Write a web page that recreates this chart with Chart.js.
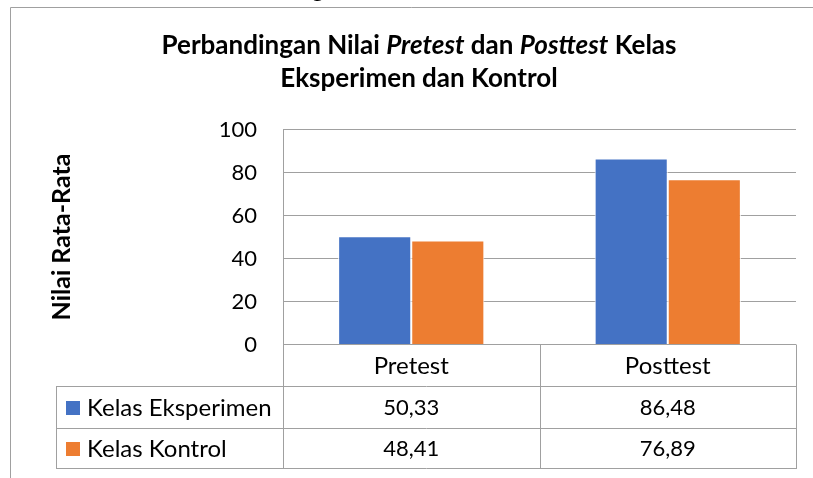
<!DOCTYPE html>
<html>
<head>
<meta charset="utf-8">
<script src="https://cdn.jsdelivr.net/npm/chart.js@4/dist/chart.umd.min.js"></script>
<style>
  body { margin: 0; background: #fff; }
  #wrap { width: 813px; height: 478px; position: relative; }
</style>
</head>
<body>
<div id="wrap"><canvas id="bar-chart"></canvas></div>
<script>
// data
const categories = ['Pretest', 'Posttest'];
const seriesNames = ['Kelas Eksperimen', 'Kelas Kontrol'];
const eksperimen = [50.33, 86.48];
const kontrol = [48.41, 76.89];
const seriesColors = ['#4472C4', '#ED7D31'];
const yMin = 0, yMax = 100, yStep = 20;
const titleParts = [
  ['Perbandingan Nilai ', false], ['Pretest', true], [' dan ', false],
  ['Posttest', true], [' Kelas', false]
];
const titleLine2 = 'Eksperimen dan Kontrol';
const yTitle = 'Nilai Rata-Rata';
const caption = 'Gambar 4.2 Diagram Nilai Rata-Rata Pretest dan Posttest';

const FONT = 'Lato, "Open Sans", sans-serif';
const lineCol = '#a0a0a0';

function fmt(v) { return v.toFixed(2).replace('.', ','); }

// frame, title, axis title and the data table under the bars
const decor = {
  id: 'decor',
  afterDraw(chart) {
    const ctx = chart.ctx;
    const area = chart.chartArea;
    const x = chart.scales.x;
    ctx.save();

    // caption of the page, mostly cut off above
    ctx.fillStyle = '#000';
    ctx.font = 'bold 26px ' + FONT;
    ctx.textAlign = 'center';
    ctx.textBaseline = 'alphabetic';
    ctx.fillText(caption, 450, -3, 610);

    // chart frame
    ctx.strokeStyle = lineCol;
    ctx.lineWidth = 1;
    ctx.beginPath();
    ctx.moveTo(10.5, 478); ctx.lineTo(10.5, 7.5); ctx.lineTo(813, 7.5);
    ctx.stroke();

    // title with italic words
    ctx.textAlign = 'left';
    let w = 0;
    titleParts.forEach(p => {
      ctx.font = (p[1] ? 'italic ' : '') + 'bold 26px ' + FONT;
      w += ctx.measureText(p[0]).width;
    });
    let tx = 419 - w / 2;
    titleParts.forEach(p => {
      ctx.font = (p[1] ? 'italic ' : '') + 'bold 26px ' + FONT;
      ctx.fillText(p[0], tx, 54);
      tx += ctx.measureText(p[0]).width;
    });
    ctx.font = 'bold 26px ' + FONT;
    ctx.textAlign = 'center';
    ctx.fillText(titleLine2, 419, 87);

    // y axis title
    ctx.save();
    ctx.translate(62, 237);
    ctx.rotate(-Math.PI / 2);
    ctx.font = 'bold 25px ' + FONT;
    ctx.textBaseline = 'middle';
    ctx.fillText(yTitle, 0, 0);
    ctx.restore();

    // data table
    const top = area.bottom;
    const r1 = 386, r2 = 428, bot = 468, tLeft = 56;
    const half = (x.getPixelForValue(1) - x.getPixelForValue(0)) / 2;
    const edges = [area.left];
    categories.forEach((c, i) => edges.push(x.getPixelForValue(i) + half));

    ctx.strokeStyle = lineCol;
    ctx.lineWidth = 1;
    ctx.beginPath();
    edges.forEach(e => {
      const ex = Math.round(e) + 0.5;
      ctx.moveTo(ex, top); ctx.lineTo(ex, bot + 0.5);
    });
    ctx.moveTo(tLeft + 0.5, r1); ctx.lineTo(tLeft + 0.5, bot + 0.5);
    [r1, r2, bot].forEach(y => {
      ctx.moveTo(tLeft, y + 0.5); ctx.lineTo(Math.round(area.right) + 1, y + 0.5);
    });
    ctx.stroke();

    ctx.fillStyle = '#000';
    ctx.font = '24px ' + FONT;
    ctx.textBaseline = 'middle';
    ctx.textAlign = 'center';
    categories.forEach((c, i) => ctx.fillText(c, x.getPixelForValue(i), (top + r1) / 2 + 1));

    const rows = [[r1, r2], [r2, bot]];
    chart.data.datasets.forEach((ds, k) => {
      const cy = (rows[k][0] + rows[k][1]) / 2 + 1;
      ctx.fillStyle = ds.backgroundColor;
      ctx.fillRect(66, cy - 7, 14, 14);
      ctx.fillStyle = '#000';
      ctx.font = '24px ' + FONT;
      ctx.textAlign = 'left';
      ctx.fillText(ds.label, 87, cy);
      ctx.font = '22px ' + FONT;
      ctx.textAlign = 'center';
      ds.data.forEach((v, i) => ctx.fillText(fmt(v), x.getPixelForValue(i), cy));
    });

    ctx.restore();
  }
};

new Chart(document.getElementById('bar-chart'), {
  type: 'bar',
  data: {
    labels: categories,
    datasets: [
      { label: seriesNames[0], data: eksperimen, backgroundColor: seriesColors[0] },
      { label: seriesNames[1], data: kontrol, backgroundColor: seriesColors[1] }
    ]
  },
  options: {
    responsive: true,
    maintainAspectRatio: false,
    animation: false,
    layout: { padding: { left: 0, top: 129.5, right: 17, bottom: 133.5 } },
    datasets: {
      bar: {
        categoryPercentage: 0.57,
        barPercentage: 1,
        borderColor: '#ffffff',
        borderWidth: 1
      }
    },
    plugins: {
      legend: { display: false },
      title: { display: false },
      tooltip: { enabled: false }
    },
    scales: {
      x: { display: false },
      y: {
        min: yMin,
        max: yMax,
        ticks: {
          stepSize: yStep,
          color: '#000',
          padding: 26,
          font: { family: FONT, size: 22 }
        },
        grid: { color: lineCol, drawTicks: false },
        border: { display: true, color: lineCol },
        afterFit(scale) { scale.width = 283; }
      }
    }
  },
  plugins: [decor]
});
</script>
</body>
</html>
